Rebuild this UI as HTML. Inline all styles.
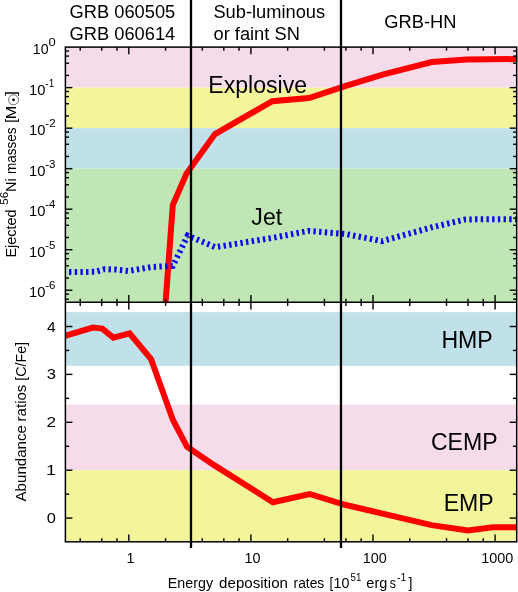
<!DOCTYPE html>
<html><head><meta charset="utf-8"><title>chart</title>
<style>html,body{margin:0;padding:0;background:#fff}svg{display:block;will-change:transform}text{font-family:"Liberation Sans",sans-serif;fill:#000}</style></head>
<body>
<svg width="518" height="592" viewBox="0 0 518 592">
<rect x="0" y="0" width="518" height="592" fill="#fff"/>
<rect x="65.4" y="47.10" width="451.30" height="40.52" fill="#f6dcea"/>
<rect x="65.4" y="87.62" width="451.30" height="40.52" fill="#f3f59b"/>
<rect x="65.4" y="128.14" width="451.30" height="40.52" fill="#c0e1ea"/>
<rect x="65.4" y="168.66" width="451.30" height="133.64" fill="#c1e6b5"/>
<rect x="65.4" y="312.13" width="451.30" height="53.65" fill="#c0e1ea"/>
<rect x="65.4" y="404.58" width="451.30" height="65.62" fill="#f6dcea"/>
<rect x="65.4" y="470.20" width="451.30" height="71.60" fill="#f3f59b"/>
<clipPath id="ct"><rect x="65.4" y="47.1" width="451.9000000000001" height="256.0"/></clipPath>
<clipPath id="cb"><rect x="65.4" y="302.3" width="451.30000000000007" height="239.49999999999994"/></clipPath>
<path d="M165.0,310.0 L172.8,205.0 L186.6,173.4 L215.0,134.1 L272.3,101.2 L309.0,98.0 L345.8,85.8 L382.6,74.6 L431.8,62.0 L466.5,59.6 L520.0,59.0" fill="none" stroke="#ff0000" stroke-width="6" stroke-linejoin="miter" clip-path="url(#ct)"/>
<path d="M62.0,272.2 L95.5,271.8 L104.5,269.2 L116.0,269.6 L128.5,271.0 L151.5,267.0 L172.8,265.9 L187.6,235.6 L215.4,247.2 L272.5,237.9 L308.4,230.9 L345.8,234.0 L381.8,241.2 L431.5,227.4 L465.5,219.4 L520.0,219.2" fill="none" stroke="#0a0af5" stroke-width="6" stroke-dasharray="2.4 3.3" stroke-dashoffset="-1.3" stroke-linejoin="miter" clip-path="url(#ct)"/>
<path d="M60.0,337.5 L92.8,327.6 L102.2,328.6 L113.4,337.6 L129.6,333.4 L151.0,359.0 L172.9,419.9 L187.0,446.8 L214.5,465.4 L272.9,502.2 L309.6,494.0 L345.8,505.0 L382.6,513.6 L431.6,525.1 L467.9,530.5 L493.0,527.3 L520.0,527.3" fill="none" stroke="#ff0000" stroke-width="6" stroke-linejoin="miter" clip-path="url(#cb)"/>
<line x1="191.0" y1="0" x2="191.0" y2="548.0" stroke="#000" stroke-width="2.3"/>
<line x1="341.0" y1="0" x2="341.0" y2="548.0" stroke="#000" stroke-width="2.3"/>
<g stroke="#000" stroke-width="1.5" fill="none"><rect x="65.4" y="47.1" width="451.30" height="494.70"/><line x1="65.4" y1="302.3" x2="516.7" y2="302.3"/></g>
<g stroke="#000" stroke-width="1.4">
<line x1="80.21" y1="47.10" x2="80.21" y2="50.70"/>
<line x1="80.21" y1="298.70" x2="80.21" y2="305.90"/>
<line x1="80.21" y1="538.20" x2="80.21" y2="541.80"/>
<line x1="101.71" y1="47.10" x2="101.71" y2="50.70"/>
<line x1="101.71" y1="298.70" x2="101.71" y2="305.90"/>
<line x1="101.71" y1="538.20" x2="101.71" y2="541.80"/>
<line x1="116.97" y1="47.10" x2="116.97" y2="50.70"/>
<line x1="116.97" y1="298.70" x2="116.97" y2="305.90"/>
<line x1="116.97" y1="538.20" x2="116.97" y2="541.80"/>
<line x1="128.80" y1="47.10" x2="128.80" y2="54.30"/>
<line x1="128.80" y1="295.10" x2="128.80" y2="309.50"/>
<line x1="128.80" y1="534.60" x2="128.80" y2="541.80"/>
<line x1="165.56" y1="47.10" x2="165.56" y2="50.70"/>
<line x1="165.56" y1="298.70" x2="165.56" y2="305.90"/>
<line x1="165.56" y1="538.20" x2="165.56" y2="541.80"/>
<line x1="202.31" y1="47.10" x2="202.31" y2="50.70"/>
<line x1="202.31" y1="298.70" x2="202.31" y2="305.90"/>
<line x1="202.31" y1="538.20" x2="202.31" y2="541.80"/>
<line x1="223.81" y1="47.10" x2="223.81" y2="50.70"/>
<line x1="223.81" y1="298.70" x2="223.81" y2="305.90"/>
<line x1="223.81" y1="538.20" x2="223.81" y2="541.80"/>
<line x1="239.07" y1="47.10" x2="239.07" y2="50.70"/>
<line x1="239.07" y1="298.70" x2="239.07" y2="305.90"/>
<line x1="239.07" y1="538.20" x2="239.07" y2="541.80"/>
<line x1="250.90" y1="47.10" x2="250.90" y2="54.30"/>
<line x1="250.90" y1="295.10" x2="250.90" y2="309.50"/>
<line x1="250.90" y1="534.60" x2="250.90" y2="541.80"/>
<line x1="287.66" y1="47.10" x2="287.66" y2="50.70"/>
<line x1="287.66" y1="298.70" x2="287.66" y2="305.90"/>
<line x1="287.66" y1="538.20" x2="287.66" y2="541.80"/>
<line x1="324.41" y1="47.10" x2="324.41" y2="50.70"/>
<line x1="324.41" y1="298.70" x2="324.41" y2="305.90"/>
<line x1="324.41" y1="538.20" x2="324.41" y2="541.80"/>
<line x1="345.91" y1="47.10" x2="345.91" y2="50.70"/>
<line x1="345.91" y1="298.70" x2="345.91" y2="305.90"/>
<line x1="345.91" y1="538.20" x2="345.91" y2="541.80"/>
<line x1="361.17" y1="47.10" x2="361.17" y2="50.70"/>
<line x1="361.17" y1="298.70" x2="361.17" y2="305.90"/>
<line x1="361.17" y1="538.20" x2="361.17" y2="541.80"/>
<line x1="373.00" y1="47.10" x2="373.00" y2="54.30"/>
<line x1="373.00" y1="295.10" x2="373.00" y2="309.50"/>
<line x1="373.00" y1="534.60" x2="373.00" y2="541.80"/>
<line x1="409.76" y1="47.10" x2="409.76" y2="50.70"/>
<line x1="409.76" y1="298.70" x2="409.76" y2="305.90"/>
<line x1="409.76" y1="538.20" x2="409.76" y2="541.80"/>
<line x1="446.51" y1="47.10" x2="446.51" y2="50.70"/>
<line x1="446.51" y1="298.70" x2="446.51" y2="305.90"/>
<line x1="446.51" y1="538.20" x2="446.51" y2="541.80"/>
<line x1="468.01" y1="47.10" x2="468.01" y2="50.70"/>
<line x1="468.01" y1="298.70" x2="468.01" y2="305.90"/>
<line x1="468.01" y1="538.20" x2="468.01" y2="541.80"/>
<line x1="483.27" y1="47.10" x2="483.27" y2="50.70"/>
<line x1="483.27" y1="298.70" x2="483.27" y2="305.90"/>
<line x1="483.27" y1="538.20" x2="483.27" y2="541.80"/>
<line x1="495.10" y1="47.10" x2="495.10" y2="54.30"/>
<line x1="495.10" y1="295.10" x2="495.10" y2="309.50"/>
<line x1="495.10" y1="534.60" x2="495.10" y2="541.80"/>
<line x1="65.40" y1="299.21" x2="69.00" y2="299.21"/>
<line x1="513.10" y1="299.21" x2="516.70" y2="299.21"/>
<line x1="65.40" y1="294.15" x2="69.00" y2="294.15"/>
<line x1="513.10" y1="294.15" x2="516.70" y2="294.15"/>
<line x1="65.40" y1="290.22" x2="72.40" y2="290.22"/>
<line x1="509.70" y1="290.22" x2="516.70" y2="290.22"/>
<line x1="65.40" y1="278.02" x2="69.00" y2="278.02"/>
<line x1="513.10" y1="278.02" x2="516.70" y2="278.02"/>
<line x1="65.40" y1="265.82" x2="69.00" y2="265.82"/>
<line x1="513.10" y1="265.82" x2="516.70" y2="265.82"/>
<line x1="65.40" y1="258.69" x2="69.00" y2="258.69"/>
<line x1="513.10" y1="258.69" x2="516.70" y2="258.69"/>
<line x1="65.40" y1="253.63" x2="69.00" y2="253.63"/>
<line x1="513.10" y1="253.63" x2="516.70" y2="253.63"/>
<line x1="65.40" y1="249.70" x2="72.40" y2="249.70"/>
<line x1="509.70" y1="249.70" x2="516.70" y2="249.70"/>
<line x1="65.40" y1="237.50" x2="69.00" y2="237.50"/>
<line x1="513.10" y1="237.50" x2="516.70" y2="237.50"/>
<line x1="65.40" y1="225.30" x2="69.00" y2="225.30"/>
<line x1="513.10" y1="225.30" x2="516.70" y2="225.30"/>
<line x1="65.40" y1="218.17" x2="69.00" y2="218.17"/>
<line x1="513.10" y1="218.17" x2="516.70" y2="218.17"/>
<line x1="65.40" y1="213.11" x2="69.00" y2="213.11"/>
<line x1="513.10" y1="213.11" x2="516.70" y2="213.11"/>
<line x1="65.40" y1="209.18" x2="72.40" y2="209.18"/>
<line x1="509.70" y1="209.18" x2="516.70" y2="209.18"/>
<line x1="65.40" y1="196.98" x2="69.00" y2="196.98"/>
<line x1="513.10" y1="196.98" x2="516.70" y2="196.98"/>
<line x1="65.40" y1="184.78" x2="69.00" y2="184.78"/>
<line x1="513.10" y1="184.78" x2="516.70" y2="184.78"/>
<line x1="65.40" y1="177.65" x2="69.00" y2="177.65"/>
<line x1="513.10" y1="177.65" x2="516.70" y2="177.65"/>
<line x1="65.40" y1="172.59" x2="69.00" y2="172.59"/>
<line x1="513.10" y1="172.59" x2="516.70" y2="172.59"/>
<line x1="65.40" y1="168.66" x2="72.40" y2="168.66"/>
<line x1="509.70" y1="168.66" x2="516.70" y2="168.66"/>
<line x1="65.40" y1="156.46" x2="69.00" y2="156.46"/>
<line x1="513.10" y1="156.46" x2="516.70" y2="156.46"/>
<line x1="65.40" y1="144.26" x2="69.00" y2="144.26"/>
<line x1="513.10" y1="144.26" x2="516.70" y2="144.26"/>
<line x1="65.40" y1="137.13" x2="69.00" y2="137.13"/>
<line x1="513.10" y1="137.13" x2="516.70" y2="137.13"/>
<line x1="65.40" y1="132.07" x2="69.00" y2="132.07"/>
<line x1="513.10" y1="132.07" x2="516.70" y2="132.07"/>
<line x1="65.40" y1="128.14" x2="72.40" y2="128.14"/>
<line x1="509.70" y1="128.14" x2="516.70" y2="128.14"/>
<line x1="65.40" y1="115.94" x2="69.00" y2="115.94"/>
<line x1="513.10" y1="115.94" x2="516.70" y2="115.94"/>
<line x1="65.40" y1="103.74" x2="69.00" y2="103.74"/>
<line x1="513.10" y1="103.74" x2="516.70" y2="103.74"/>
<line x1="65.40" y1="96.61" x2="69.00" y2="96.61"/>
<line x1="513.10" y1="96.61" x2="516.70" y2="96.61"/>
<line x1="65.40" y1="91.55" x2="69.00" y2="91.55"/>
<line x1="513.10" y1="91.55" x2="516.70" y2="91.55"/>
<line x1="65.40" y1="87.62" x2="72.40" y2="87.62"/>
<line x1="509.70" y1="87.62" x2="516.70" y2="87.62"/>
<line x1="65.40" y1="75.42" x2="69.00" y2="75.42"/>
<line x1="513.10" y1="75.42" x2="516.70" y2="75.42"/>
<line x1="65.40" y1="63.22" x2="69.00" y2="63.22"/>
<line x1="513.10" y1="63.22" x2="516.70" y2="63.22"/>
<line x1="65.40" y1="56.09" x2="69.00" y2="56.09"/>
<line x1="513.10" y1="56.09" x2="516.70" y2="56.09"/>
<line x1="65.40" y1="51.03" x2="69.00" y2="51.03"/>
<line x1="513.10" y1="51.03" x2="516.70" y2="51.03"/>
<line x1="65.40" y1="518.10" x2="72.40" y2="518.10"/>
<line x1="509.70" y1="518.10" x2="516.70" y2="518.10"/>
<line x1="65.40" y1="494.15" x2="69.20" y2="494.15"/>
<line x1="512.90" y1="494.15" x2="516.70" y2="494.15"/>
<line x1="65.40" y1="470.20" x2="72.40" y2="470.20"/>
<line x1="509.70" y1="470.20" x2="516.70" y2="470.20"/>
<line x1="65.40" y1="446.25" x2="69.20" y2="446.25"/>
<line x1="512.90" y1="446.25" x2="516.70" y2="446.25"/>
<line x1="65.40" y1="422.30" x2="72.40" y2="422.30"/>
<line x1="509.70" y1="422.30" x2="516.70" y2="422.30"/>
<line x1="65.40" y1="398.35" x2="69.20" y2="398.35"/>
<line x1="512.90" y1="398.35" x2="516.70" y2="398.35"/>
<line x1="65.40" y1="374.40" x2="72.40" y2="374.40"/>
<line x1="509.70" y1="374.40" x2="516.70" y2="374.40"/>
<line x1="65.40" y1="350.45" x2="69.20" y2="350.45"/>
<line x1="512.90" y1="350.45" x2="516.70" y2="350.45"/>
<line x1="65.40" y1="326.50" x2="72.40" y2="326.50"/>
<line x1="509.70" y1="326.50" x2="516.70" y2="326.50"/>
</g>
<text x="69.58" y="17.50" font-size="18.3px">GRB 060505</text>
<text x="69.58" y="39.80" font-size="18.3px">GRB 060614</text>
<text x="213.38" y="17.50" font-size="18.3px">Sub-luminous</text>
<text x="213.47" y="39.80" font-size="18.3px">or faint SN</text>
<text x="384.28" y="27.70" font-size="18.3px">GRB-HN</text>
<text x="208.25" y="92.70" font-size="23.1px">Explosive</text>
<text x="251.35" y="225.40" font-size="23.1px">Jet</text>
<text x="441.45" y="347.80" font-size="23.1px">HMP</text>
<text x="430.95" y="449.50" font-size="23.1px">CEMP</text>
<text x="443.65" y="511.10" font-size="23.1px">EMP</text>
<text transform="translate(32.84,54.10) scale(0.9323,1.0)" font-size="15.2px">10</text>
<text transform="translate(48.48,46.10) scale(1.1654,1.0)" font-size="11.2px">0</text>
<text transform="translate(28.99,94.62) scale(0.9720,1.0)" font-size="15.2px">10</text>
<text transform="translate(45.35,86.62) scale(0.8985,1.0)" font-size="11.2px">-1</text>
<text transform="translate(28.99,135.14) scale(0.9720,1.0)" font-size="15.2px">10</text>
<text transform="translate(45.28,127.14) scale(1.0332,1.0)" font-size="11.2px">-2</text>
<text transform="translate(28.99,175.66) scale(0.9720,1.0)" font-size="15.2px">10</text>
<text transform="translate(45.28,167.66) scale(1.0268,1.0)" font-size="11.2px">-3</text>
<text transform="translate(28.99,216.18) scale(0.9720,1.0)" font-size="15.2px">10</text>
<text transform="translate(45.29,208.18) scale(1.0079,1.0)" font-size="11.2px">-4</text>
<text transform="translate(28.99,256.70) scale(0.9720,1.0)" font-size="15.2px">10</text>
<text transform="translate(45.29,248.70) scale(1.0204,1.0)" font-size="11.2px">-5</text>
<text transform="translate(28.99,297.22) scale(0.9720,1.0)" font-size="15.2px">10</text>
<text transform="translate(45.28,289.22) scale(1.0268,1.0)" font-size="11.2px">-6</text>
<text transform="translate(46.64,523.10) scale(1.0803,1.0)" font-size="15.2px">0</text>
<text transform="translate(45.94,475.20) scale(1.1934,1.0)" font-size="15.2px">1</text>
<text transform="translate(46.44,427.30) scale(1.1278,1.0)" font-size="15.2px">2</text>
<text transform="translate(46.64,379.40) scale(1.0918,1.0)" font-size="15.2px">3</text>
<text transform="translate(46.91,331.50) scale(1.0263,1.0)" font-size="15.2px">4</text>
<text transform="translate(126.52,563.10) scale(0.9474,1.0)" font-size="15.2px">1</text>
<text transform="translate(244.56,563.10) scale(0.9474,1.0)" font-size="15.2px">10</text>
<text transform="translate(362.66,563.10) scale(0.9474,1.0)" font-size="15.2px">100</text>
<text transform="translate(481.13,563.10) scale(0.9474,1.0)" font-size="15.2px">1000</text>
<text transform="translate(167.86,588.10) scale(0.9836,1.0)" font-size="14.5px">Energy</text>
<text transform="translate(219.10,588.10) scale(1.0418,1.0)" font-size="14.5px">deposition</text>
<text transform="translate(293.60,588.10) scale(0.9509,1.0)" font-size="14.5px">rates</text>
<text transform="translate(329.49,588.10) scale(0.8966,1.0)" font-size="14.5px">[</text>
<text transform="translate(333.53,588.10) scale(0.9842,1.0)" font-size="14.5px">10</text>
<text transform="translate(350.51,580.70) scale(0.9244,1.0)" font-size="10.5px">51</text>
<text transform="translate(366.35,588.10) scale(1.0022,1.0)" font-size="14.5px">erg</text>
<text transform="translate(389.83,588.10) scale(0.8561,1.0)" font-size="14.5px">s</text>
<text transform="translate(396.92,580.70) scale(1.0063,1.0)" font-size="10.5px">-1</text>
<text transform="translate(408.46,588.10) scale(0.9903,1.0)" font-size="14.5px">]</text>
<text transform="translate(26.10,501.48) rotate(-90) scale(1.0421,1)" font-size="14.5px">Abundance</text>
<text transform="translate(26.10,421.38) rotate(-90) scale(1.0352,1)" font-size="14.5px">ratios</text>
<text transform="translate(26.10,380.70) rotate(-90) scale(0.9810,1)" font-size="14.5px">[C/Fe]</text>
<text transform="translate(16.00,257.56) rotate(-90) scale(0.9966,1)" font-size="14.5px">Ejected</text>
<text transform="translate(7.80,204.66) rotate(-90) scale(1.1286,1)" font-size="10.2px">56</text>
<text transform="translate(16.00,191.97) rotate(-90) scale(1.0063,1)" font-size="14.5px">Ni</text>
<text transform="translate(16.00,174.08) rotate(-90) scale(0.9340,1)" font-size="14.5px">masses</text>
<text transform="translate(16.00,122.78) rotate(-90) scale(0.9655,1)" font-size="14.5px">[</text>
<text transform="translate(16.00,119.30) rotate(-90) scale(1.1220,1)" font-size="14.5px">M</text>
<text transform="translate(16.00,95.98) rotate(-90) scale(1.2732,1)" font-size="14.5px">]</text>
<circle cx="13.5" cy="99.8" r="5.0" fill="none" stroke="#000" stroke-width="0.55"/><circle cx="13.5" cy="99.8" r="1.4" fill="#000"/>
</svg>
</body></html>
